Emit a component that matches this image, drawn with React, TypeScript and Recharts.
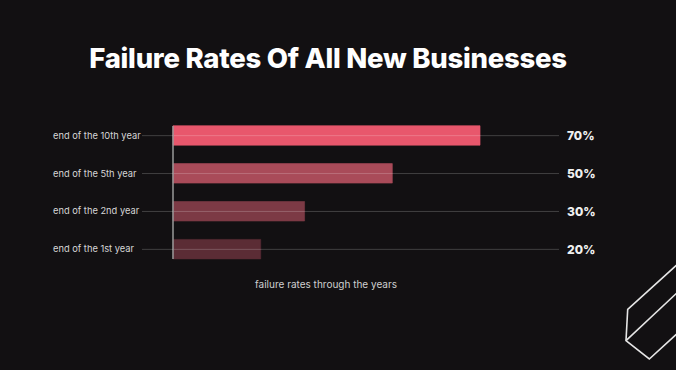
import React from "react";
import {
  BarChart,
  Bar,
  Cell,
  XAxis,
  YAxis,
  ReferenceLine,
} from "recharts";

// chart values
const categories = [
  "end of the 10th year",
  "end of the 5th year",
  "end of the 2nd year",
  "end of the 1st year",
];
const failureRates = [70, 50, 30, 20];
const rateLabels = ["70%", "50%", "30%", "20%"];
const barColors = ["#e8576c", "#a94b59", "#7c3a45", "#5b2c35"];

const BG = "#121012";
const GRID = "rgba(255,255,255,0.2)";

const data = categories.map((name, i) => ({
  name,
  rate: failureRates[i],
  label: rateLabels[i],
}));

// left labels are left aligned, line runs from the axis back toward the text
const LeftTick = (props: any) => {
  const { x, y, payload } = props;
  return (
    <text
      x={x - 85}
      y={y}
      dy={3}
      textAnchor="start"
      fontFamily="Inter, sans-serif"
      fontSize={9.3}
      fill="#d6d6d6"
    >
      {payload.value}
    </text>
  );
};

const App: React.FC = () => {
  return (
    <div
      style={{
        position: "fixed",
        left: 0,
        top: 0,
        width: 676,
        height: 370,
        background: BG,
        overflow: "hidden",
      }}
    >
      <div
        style={{
          position: "absolute",
          left: 0,
          top: 41,
          width: 656,
          textAlign: "center",
          fontFamily: "Inter, sans-serif",
          fontWeight: 800,
          fontSize: 27.5,
          letterSpacing: -0.25,
          color: "#ffffff",
          lineHeight: "34px",
        }}
      >
        Failure Rates Of All New Businesses
      </div>

      <div style={{ position: "absolute", left: 0, top: 0 }}>
        <BarChart
          width={676}
          height={370}
          data={data}
          layout="vertical"
          margin={{ top: 126, right: 0, bottom: 77, left: 0 }}
        >
          <XAxis
            type="number"
            domain={[0, 88]}
            height={34}
            axisLine={false}
            tickLine={false}
            tick={false}
            label={{
              value: "failure rates through the years",
              position: "insideBottom",
              dx: -40,
              fontFamily: "Inter, sans-serif",
              fontSize: 10,
              fill: "#cfcfcf",
            }}
          />
          <YAxis
            yAxisId="left"
            type="category"
            dataKey="name"
            width={173}
            padding={{ top: -9.3, bottom: -9.3 }}
            axisLine={{ stroke: "#9a9a9a", strokeWidth: 1.5 }}
            tickSize={31}
            tickMargin={4}
            tickLine={{ stroke: GRID }}
            tick={<LeftTick />}
          />
          <YAxis
            yAxisId="right"
            orientation="right"
            type="category"
            dataKey="label"
            width={117}
            padding={{ top: -9.3, bottom: -9.3 }}
            axisLine={false}
            tickLine={false}
            tickSize={0}
            tickMargin={8}
            tick={{
              fontFamily: "Inter, sans-serif",
              fontSize: 12,
              fontWeight: 800,
              fill: "#f0f0f0",
            }}
          />
          <Bar
            yAxisId="left"
            dataKey="rate"
            barSize={19.5}
            isAnimationActive={false}
          >
            {data.map((d, i) => (
              <Cell
                key={`cell-${i}`}
                fill={barColors[i]}
                stroke={barColors[i]}
                strokeOpacity={0.6}
              />
            ))}
          </Bar>
          {categories.map((c) => (
            <ReferenceLine
              key={c}
              yAxisId="left"
              y={c}
              stroke={GRID}
              strokeWidth={1}
            />
          ))}
        </BarChart>
      </div>

      {/* outline decoration in the lower right corner */}
      <svg
        width={676}
        height={370}
        style={{ position: "absolute", left: 0, top: 0, pointerEvents: "none" }}
      >
        <g fill="none" stroke="#e6e6e6" strokeWidth={1.6}>
          <polyline points="680,262 627.7,309.3 626,340.7 649.3,359 680,331" />
          <line x1={626} y1={340.7} x2={680} y2={290} />
        </g>
      </svg>
    </div>
  );
};

export default App;
